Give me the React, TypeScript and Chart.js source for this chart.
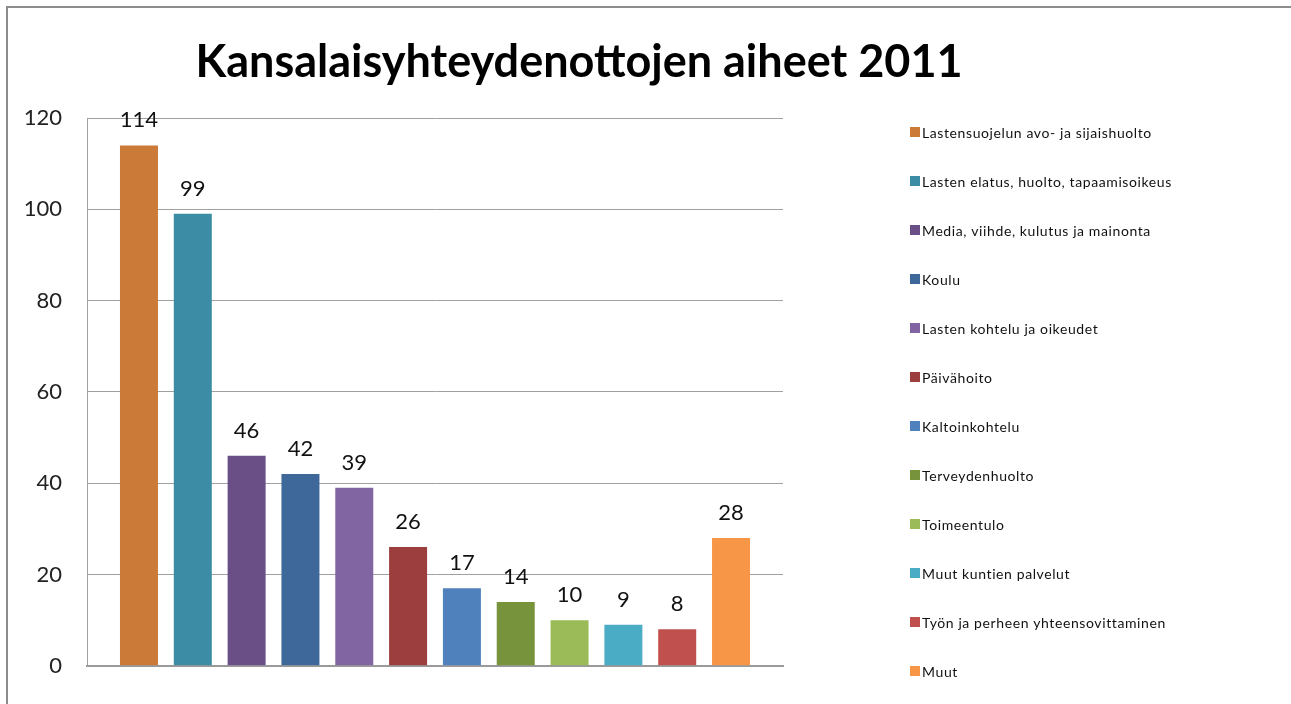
import React, { useEffect, useRef } from "react";
import { Chart, registerables } from "chart.js";

Chart.register(...registerables);

const TITLE = "Kansalaisyhteydenottojen aiheet 2011";

const categories = [
  "Lastensuojelun avo- ja sijaishuolto",
  "Lasten elatus, huolto, tapaamisoikeus",
  "Media, viihde, kulutus ja mainonta",
  "Koulu",
  "Lasten kohtelu ja oikeudet",
  "Päivähoito",
  "Kaltoinkohtelu",
  "Terveydenhuolto",
  "Toimeentulo",
  "Muut kuntien palvelut",
  "Työn ja perheen yhteensovittaminen",
  "Muut",
];

const values = [114, 99, 46, 42, 39, 26, 17, 14, 10, 9, 8, 28];

const colors = [
  "#CC7A37",
  "#3B8CA4",
  "#6A4F87",
  "#3F689A",
  "#8165A3",
  "#9C3E3E",
  "#4F81BD",
  "#77933C",
  "#9BBB59",
  "#4BACC6",
  "#C0504D",
  "#F79646",
];

const yTicks = [0, 20, 40, 60, 80, 100, 120];

const FONT = "Lato, 'Open Sans', sans-serif";

const overlayPlugin = {
  id: "overlay",
  afterDatasetsDraw(chart: any) {
    const ctx = chart.ctx;
    ctx.save();
    // data labels
    ctx.fillStyle = "#111";
    ctx.font = `22px ${FONT}`;
    ctx.textAlign = "center";
    ctx.textBaseline = "alphabetic";
    chart.data.datasets.forEach((ds: any, i: number) => {
      const meta = chart.getDatasetMeta(i);
      meta.data.forEach((el: any, j: number) => {
        ctx.fillText(String(ds.data[j]), el.x, el.y - 18);
      });
    });
    // title
    ctx.font = `bold 45px ${FONT}`;
    ctx.fillStyle = "#000";
    ctx.fillText(TITLE, 579, 77);
    // legend
    ctx.font = `14px ${FONT}`;
    try {
      (ctx as any).letterSpacing = "0.6px";
    } catch (e) {}
    ctx.textAlign = "left";
    ctx.textBaseline = "middle";
    chart.data.datasets.forEach((ds: any, i: number) => {
      const cy = 132 + i * 49;
      ctx.fillStyle = ds.backgroundColor;
      ctx.fillRect(910, cy - 5, 10, 10);
      ctx.fillStyle = "#111";
      ctx.fillText(ds.label, 922, cy + 1);
    });
    ctx.restore();
  },
};

export default function App() {
  const ref = useRef<HTMLCanvasElement | null>(null);
  useEffect(() => {
    if (!ref.current) return;
    const chart = new Chart(ref.current, {
      type: "bar",
      data: {
        labels: [""],
        datasets: categories.map((c, i) => ({
          label: c,
          data: [values[i]],
          backgroundColor: colors[i],
          categoryPercentage: 0.928,
          barPercentage: 0.706,
        })),
      },
      options: {
        animation: false,
        responsive: false,
        maintainAspectRatio: false,
        layout: { padding: { left: 10, top: 118, right: 508, bottom: 37 } },
        plugins: {
          legend: { display: false },
          tooltip: { enabled: false },
          title: { display: false },
        },
        scales: {
          x: {
            ticks: { display: false },
            grid: { display: false, drawTicks: false },
            border: { display: true, color: "#9a9a9a", width: 2 },
          },
          y: {
            min: 0,
            max: 120,
            afterBuildTicks: (scale: any) => {
              scale.ticks = yTicks.map((v) => ({ value: v }));
            },
            afterFit: (scale: any) => {
              scale.width = 77;
            },
            ticks: {
              padding: 25,
              color: "#222",
              font: { family: FONT, size: 22 },
            },
            grid: { color: "#a0a0a0", drawTicks: false, lineWidth: 1 },
            border: { display: true, color: "#a0a0a0", width: 1 },
          },
        },
      },
      plugins: [overlayPlugin],
    });
    return () => chart.destroy();
  }, []);
  return (
    <div
      style={{
        position: "fixed",
        left: 0,
        top: 0,
        width: 1291,
        height: 704,
        overflow: "hidden",
        background: "#fff",
      }}
    >
      <div
        style={{
          position: "absolute",
          left: 6,
          top: 6,
          width: 1400,
          height: 800,
          border: "2px solid #8c8c8c",
          boxSizing: "border-box",
        }}
      />
      <canvas
        ref={ref}
        width={1291}
        height={704}
        style={{ position: "absolute", left: 0, top: 0, width: 1291, height: 704 }}
      />
    </div>
  );
}
